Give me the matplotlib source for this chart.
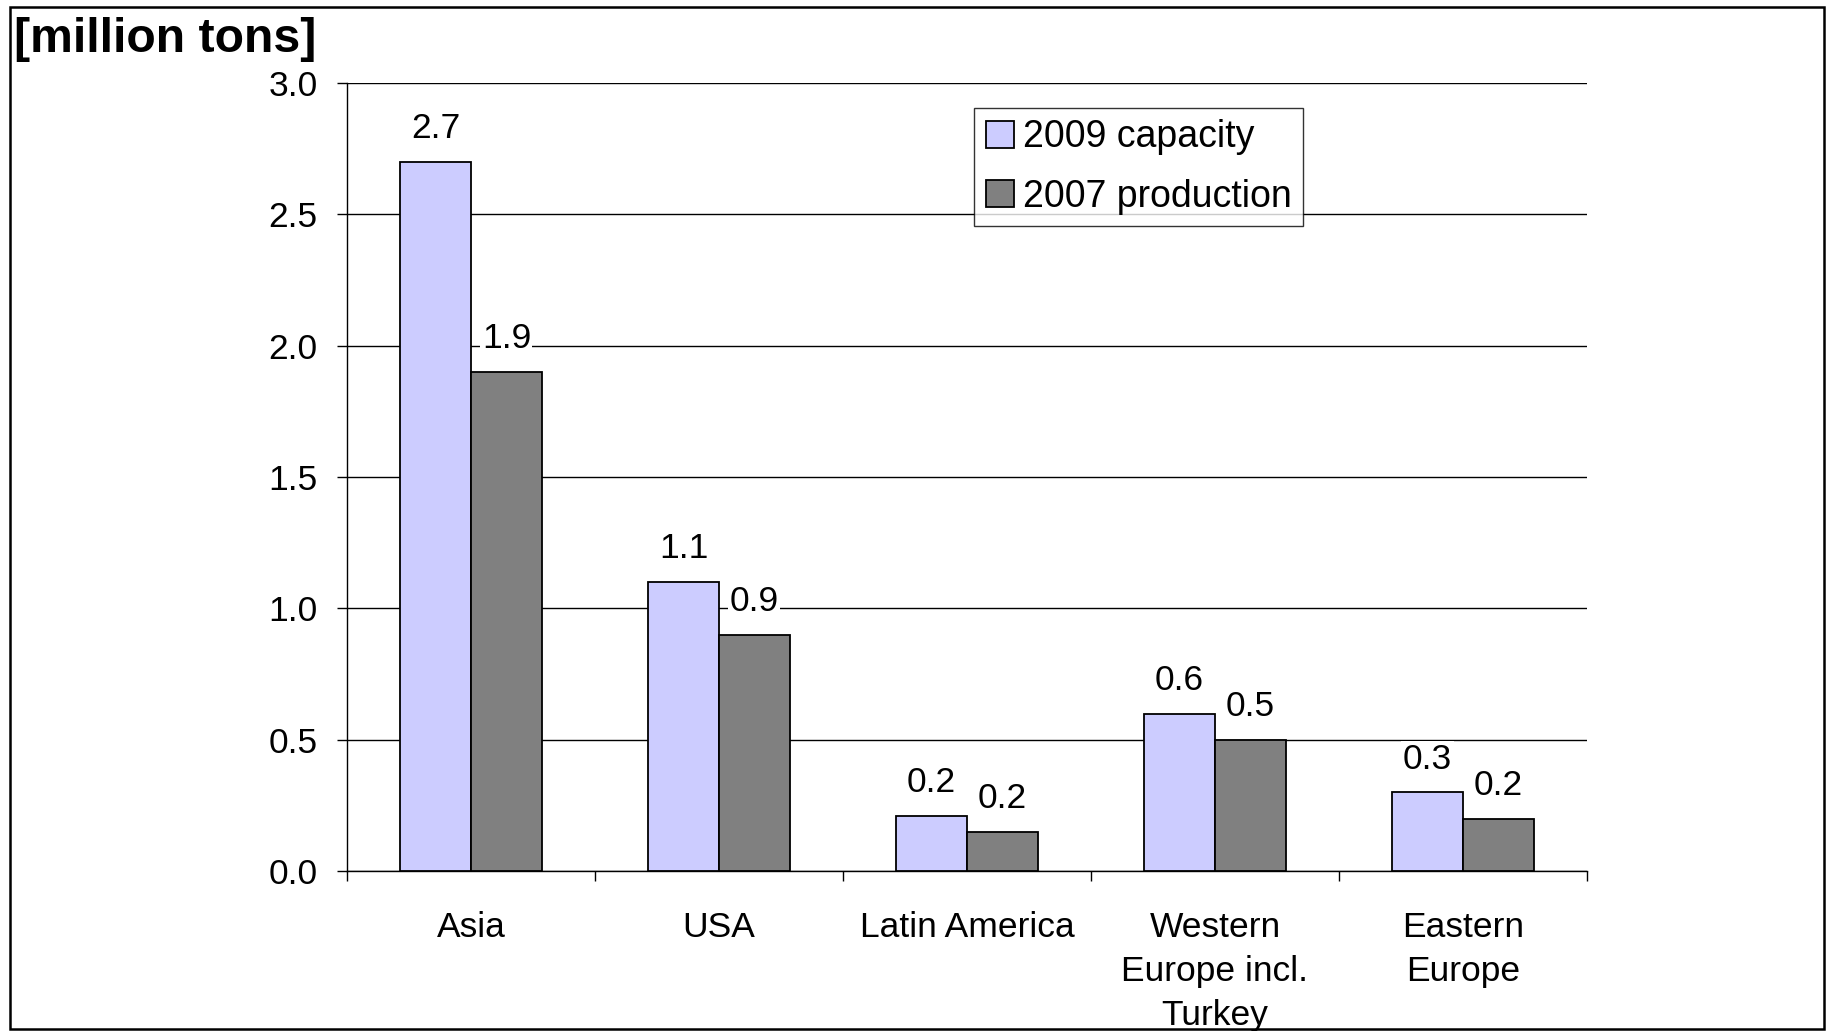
import numpy as np
import matplotlib.pyplot as plt
from matplotlib.patches import Rectangle

regions = ['Asia', 'USA', 'Latin America', 'Western\nEurope incl.\nTurkey', 'Eastern\nEurope']
capacity_2009 = [2.7, 1.1, 0.21, 0.6, 0.3]
production_2007 = [1.9, 0.9, 0.15, 0.5, 0.2]

plt.rcParams['font.family'] = ['Liberation Sans', 'DejaVu Sans']
FS = 25.5

fig = plt.figure(figsize=(18.3, 10.31), dpi=100)
ax = fig.add_axes([0.1896, 0.155, 0.6776, 0.7645])

x = np.arange(len(regions))
w = 0.286
b1 = ax.bar(x - w / 2, capacity_2009, w, color='#ccccff', edgecolor='black',
            linewidth=1.3, label='2009 capacity', zorder=3)
b2 = ax.bar(x + w / 2, production_2007, w, color='#808080', edgecolor='black',
            linewidth=1.3, label='2007 production', zorder=3)

def label_bars(bars, vals):
    for bar, v in zip(bars, vals):
        txt = f"{round(v + 1e-9, 1):.1f}"
        ax.annotate(txt, (bar.get_x() + bar.get_width() / 2, v),
                    xytext=(0, 24), textcoords='offset points',
                    ha='center', va='center', fontsize=FS,
                    bbox=dict(facecolor='white', edgecolor='none', pad=1),
                    zorder=4)

label_bars(b1, capacity_2009)
label_bars(b2, production_2007)

ax.set_xlim(-0.5, len(regions) - 0.5)
ax.set_ylim(0, 3.0)
ax.set_yticks(np.arange(0, 3.01, 0.5))
ax.set_yticklabels([f"{t:.1f}" for t in np.arange(0, 3.01, 0.5)])
ax.yaxis.grid(True, color='black', linewidth=1.0, zorder=0)
ax.set_axisbelow(True)

# category names sit between boundary ticks
ax.set_xticks(np.arange(-0.5, len(regions), 1.0))
ax.set_xticklabels([])
ax.set_xticks(x, minor=True)
ax.set_xticklabels(regions, minor=True, fontsize=FS, linespacing=1.41)
ax.tick_params(axis='x', which='minor', length=0, pad=29)
ax.tick_params(axis='x', which='major', length=7, width=1, direction='out')
ax.tick_params(axis='y', length=7, width=1, direction='out', pad=14, labelsize=FS)

for s in ['top', 'right']:
    ax.spines[s].set_visible(False)
ax.spines['left'].set_linewidth(1)
ax.spines['bottom'].set_linewidth(1)

leg = ax.legend(loc='upper left', bbox_to_anchor=(0.506, 0.968), fontsize=27,
                frameon=True, fancybox=False, edgecolor='black',
                handlelength=0.75, handleheight=0.75, handletextpad=0.25,
                borderpad=0.3, labelspacing=0.62, borderaxespad=0)
leg.get_frame().set_linewidth(1)

fig.text(14 / 1830, 1 - 17 / 1031, '[million tons]', fontsize=34.7,
         fontweight='bold', ha='left', va='top')

fig.patches.append(Rectangle((10 / 1830, 2 / 1031), 1814 / 1830, 1022 / 1031,
                             transform=fig.transFigure, fill=False,
                             edgecolor='black', linewidth=1.8))

fig.savefig('out.png', dpi=100)
